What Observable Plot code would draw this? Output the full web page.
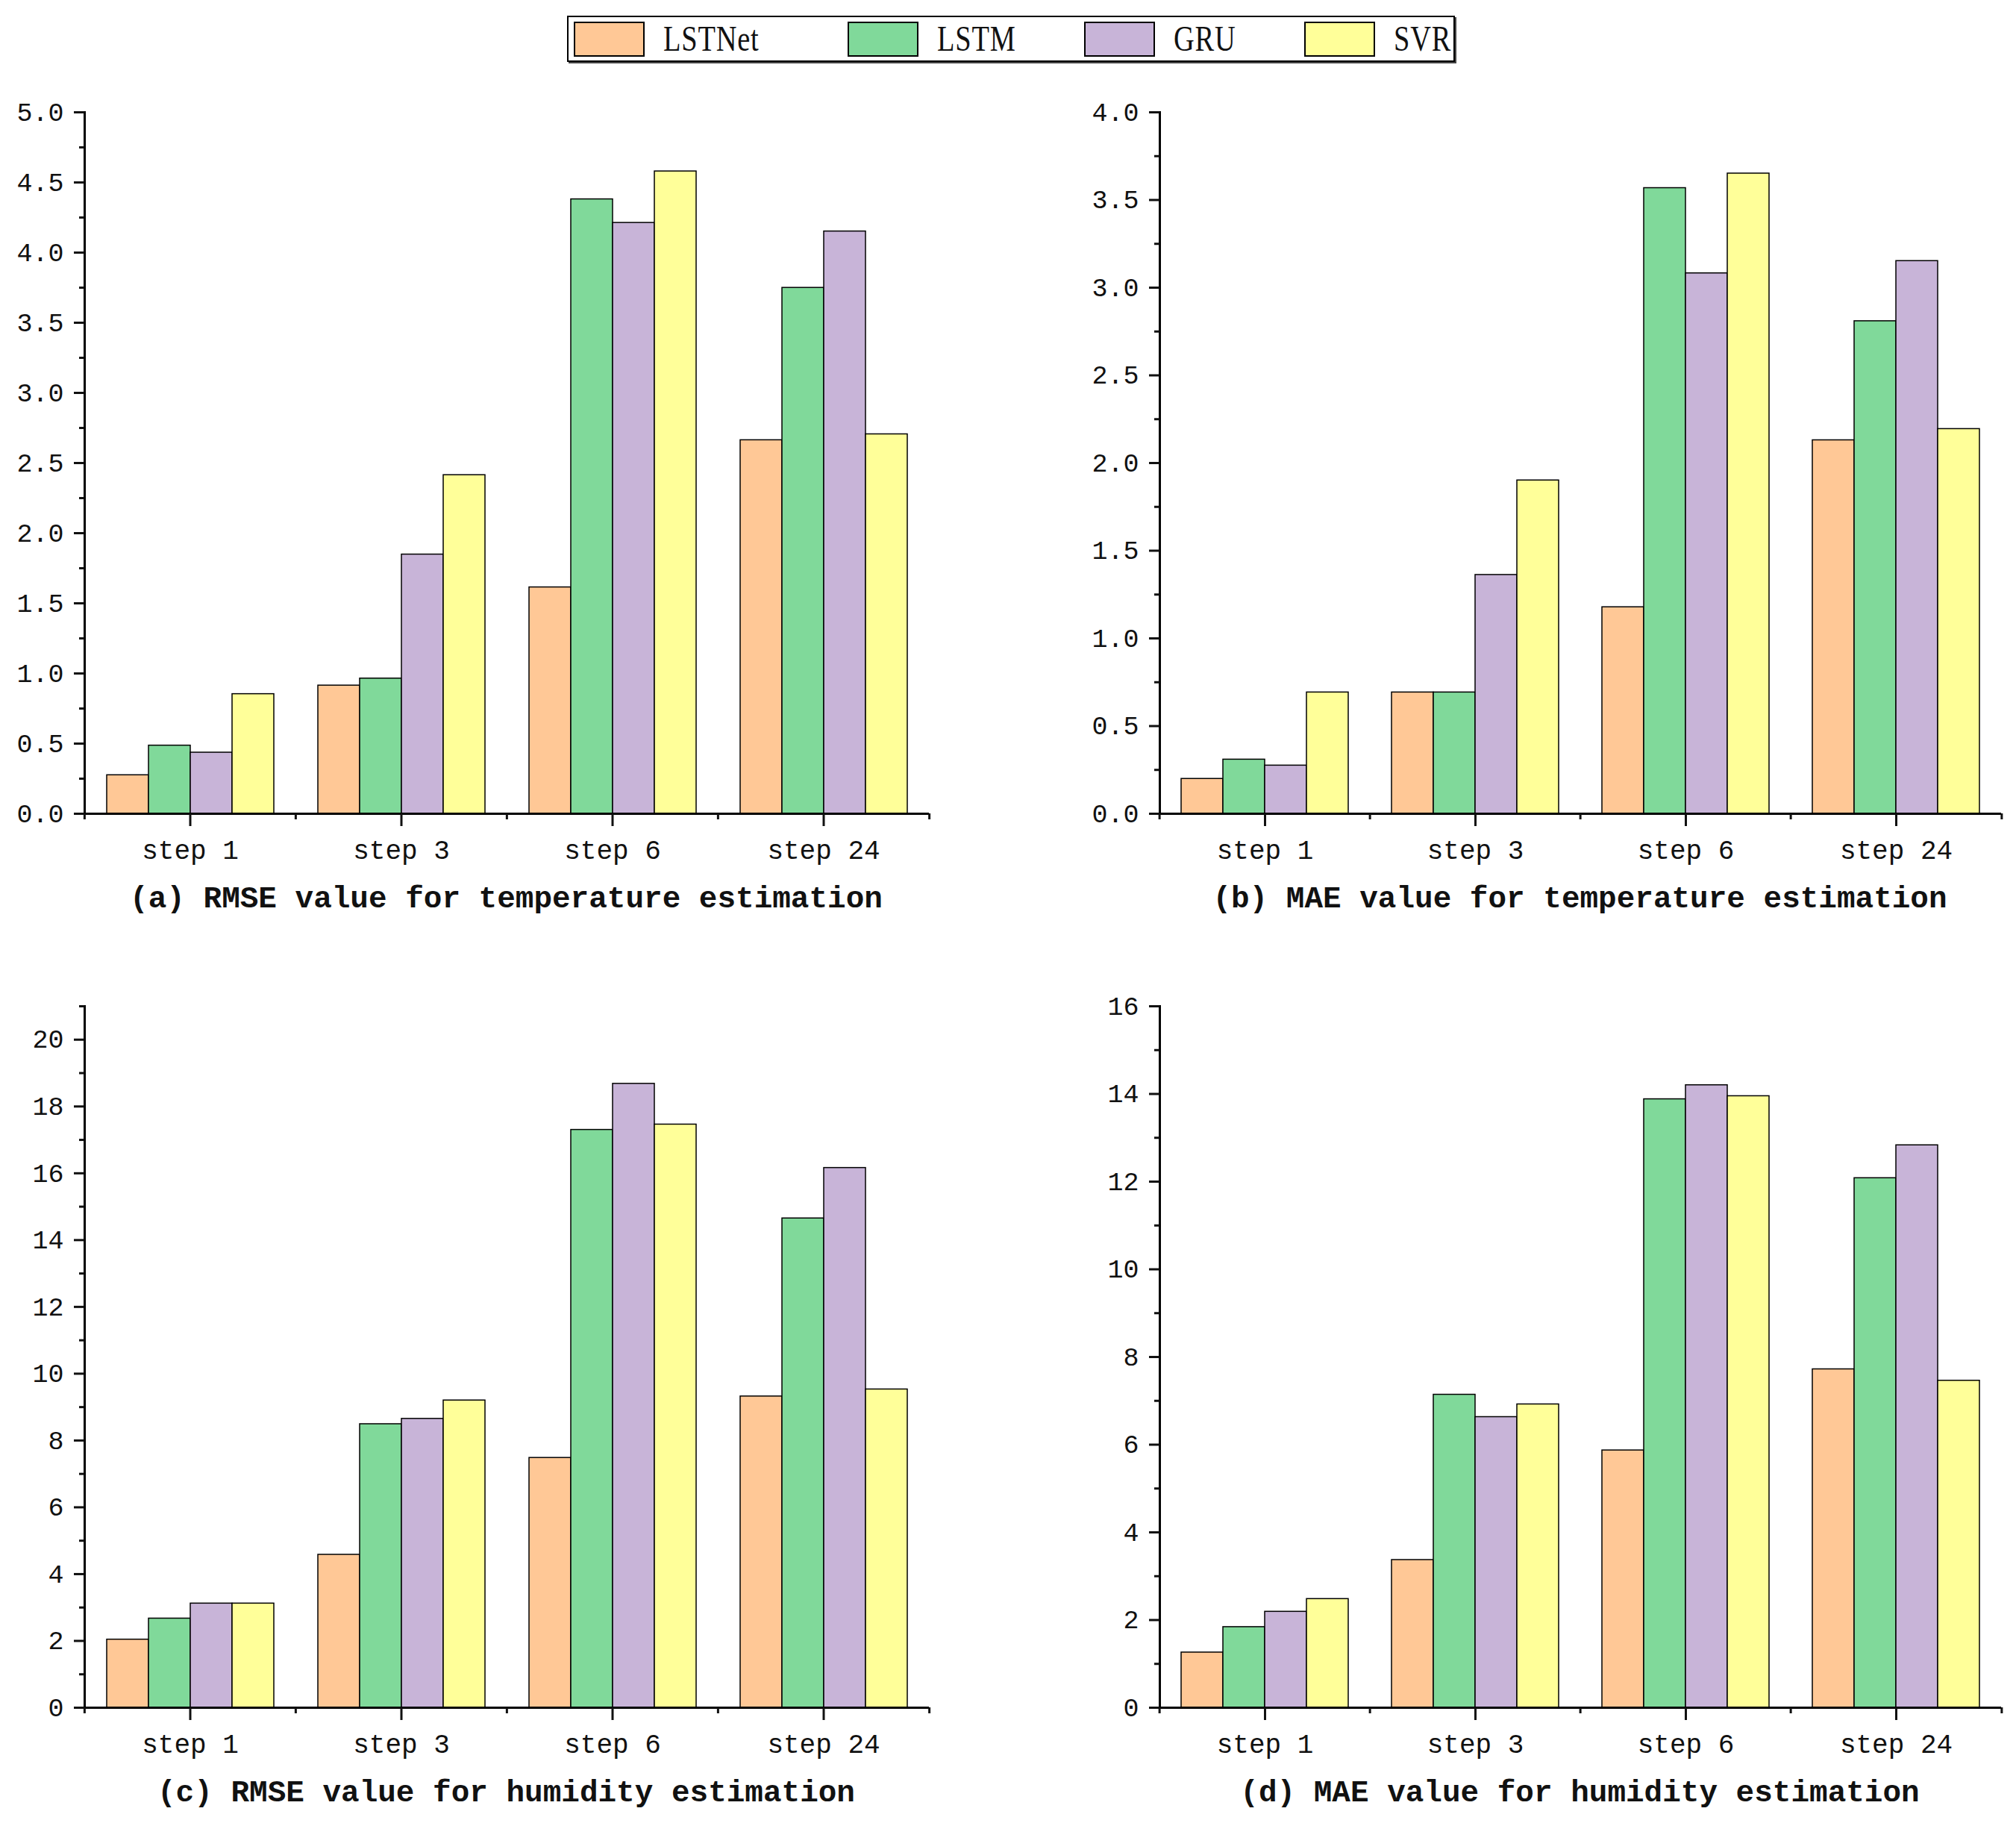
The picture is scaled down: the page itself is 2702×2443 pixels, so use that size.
<!DOCTYPE html>
<html>
<head>
<meta charset="utf-8">
<script src="https://cdn.jsdelivr.net/npm/d3@7"></script>
<script src="https://cdn.jsdelivr.net/npm/@observablehq/plot@0.6"></script>
<style>
  body { margin: 0; background: #fff; width: 2702px; height: 2443px; position: relative; overflow: hidden; }
  .panel { position: absolute; }
  .title { position: absolute; text-align: center; font-family: "Liberation Mono", monospace; font-size: 41px; font-weight: bold; color: #111; white-space: nowrap; line-height: 70px; }
  #legend { position: absolute; left: 760px; top: 21px; width: 1190px; height: 62px; border: 2px solid #000; box-sizing: border-box; box-shadow: 2px 2px 0 #444; }
  .sw { position: absolute; top: 6px; width: 95px; height: 47px; border: 2px solid #000; box-sizing: border-box; }
  .lt { position: absolute; top: 0; height: 58px; line-height: 58px; font-family: "Liberation Serif", serif; font-size: 48px; color: #111; transform: scaleX(0.8); transform-origin: left center; white-space: nowrap; letter-spacing: 1px; }
</style>
</head>
<body>
<div id="legend"></div>
<script>
// ---------- data ----------
const steps  = ["step 1", "step 3", "step 6", "step 24"];
const models = ["LSTNet", "LSTM", "GRU", "SVR"];
const colors = ["#FFC896", "#80D99A", "#C8B4D8", "#FFFF99"];

// rows: LSTNet, LSTM, GRU, SVR ; columns: step 1, step 3, step 6, step 24
const rmseTemp = [
  [0.275, 0.914, 1.614, 2.663],
  [0.486, 0.964, 4.380, 3.749],
  [0.436, 1.848, 4.212, 4.151],
  [0.853, 2.414, 4.579, 2.705]
];
const maeTemp = [
  [0.199, 0.692, 1.178, 2.130],
  [0.309, 0.692, 3.568, 2.809],
  [0.275, 1.362, 3.082, 3.152],
  [0.692, 1.901, 3.651, 2.194]
];
const rmseHum = [
  [2.04, 4.58, 7.48, 9.32],
  [2.67, 8.49, 17.30, 14.65],
  [3.12, 8.65, 18.68, 16.16],
  [3.12, 9.20, 17.46, 9.53]
];
const maeHum = [
  [1.26, 3.37, 5.87, 7.72],
  [1.84, 7.14, 13.88, 12.08],
  [2.19, 6.63, 14.20, 12.83],
  [2.48, 6.92, 13.95, 7.46]
];

const rmseTempTicks = [0, 0.5, 1, 1.5, 2, 2.5, 3, 3.5, 4, 4.5, 5];
const rmseTempMinor = [0.25, 0.75, 1.25, 1.75, 2.25, 2.75, 3.25, 3.75, 4.25, 4.75];
const maeTempTicks  = [0, 0.5, 1, 1.5, 2, 2.5, 3, 3.5, 4];
const maeTempMinor  = [0.25, 0.75, 1.25, 1.75, 2.25, 2.75, 3.25, 3.75];
const rmseHumTicks  = [0, 2, 4, 6, 8, 10, 12, 14, 16, 18, 20];
const rmseHumMinor  = [1, 3, 5, 7, 9, 11, 13, 15, 17, 19, 21];
const maeHumTicks   = [0, 2, 4, 6, 8, 10, 12, 14, 16];
const maeHumMinor   = [1, 3, 5, 7, 9, 11, 13, 15];

const titles = [
  "(a) RMSE value for temperature estimation",
  "(b) MAE value for temperature estimation",
  "(c) RMSE value for humidity estimation",
  "(d) MAE value for humidity estimation"
];

// ---------- legend ----------
const legend = document.getElementById("legend");
const swLeft = [7, 374, 691, 986];
models.forEach((m, i) => {
  const s = document.createElement("div");
  s.className = "sw"; s.style.left = swLeft[i] + "px"; s.style.background = colors[i];
  legend.appendChild(s);
  const t = document.createElement("div");
  t.className = "lt"; t.style.left = (swLeft[i] + 120) + "px"; t.textContent = m;
  legend.appendChild(t);
});

// ---------- panels ----------
const W = 1351, H = 1060, MT = 40, MB = 80;
function panel({values, yMax, major, minor, fmt, left, top, ml, mr, title}) {
  const data = models.flatMap((m, j) => steps.map((s, i) => ({model: m, step: s, value: values[j][i]})));
  const fw = (W - ml - mr) / steps.length;
  const chart = Plot.plot({
    width: W, height: H,
    marginLeft: ml, marginRight: mr, marginTop: MT, marginBottom: MB,
    style: {fontFamily: '"Liberation Mono", monospace', fontSize: "35px", color: "#111", background: "transparent", overflow: "visible"},
    fx: {domain: steps, padding: 0, label: null},
    x: {domain: models, paddingInner: 0, paddingOuter: 0.5, axis: null},
    y: {domain: [0, yMax], label: null},
    color: {domain: models, range: colors},
    marks: [
      Plot.barY(data, {fx: "step", x: "model", y: "value", fill: "model", stroke: "#000", strokeWidth: 1.5}),
      Plot.ruleY([0], {stroke: "#000", strokeWidth: 3}),
      Plot.frame({anchor: "left", facetAnchor: "left", stroke: "#000", strokeWidth: 3}),
      Plot.axisY({ticks: major, tickFormat: fmt, tickSize: 14, tickPadding: 14, strokeWidth: 3, fontSize: 35, label: null}),
      Plot.axisY({ticks: minor, tickFormat: () => "", tickSize: 7, strokeWidth: 3, label: null}),
      Plot.axisFx({anchor: "bottom", tickSize: 17, tickPadding: 18, strokeWidth: 3, fontSize: 36, label: null}),
      Plot.axisFx({anchor: "bottom", tickSize: 8, tickFormat: () => "", dx: -fw / 2, strokeWidth: 3, label: null}),
      Plot.axisFx({anchor: "bottom", ticks: [steps[steps.length - 1]], tickSize: 8, tickFormat: () => "", dx: fw / 2, strokeWidth: 3, label: null})
    ]
  });
  chart.classList.add("panel");
  chart.style.left = left + "px";
  chart.style.top = top + "px";
  document.body.appendChild(chart);
  const t = document.createElement("div");
  t.className = "title";
  t.style.left = (left + ml) + "px";
  t.style.width = (W - ml - mr) + "px";
  t.style.top = (top + H) + "px";
  t.textContent = title;
  document.body.appendChild(t);
}

const f1 = d3.format(".1f"), f0 = d3.format("d");
panel({values: rmseTemp, yMax: 5,  major: rmseTempTicks, minor: rmseTempMinor, fmt: f1, left: 0,    top: 110,  ml: 112, mr: 106, title: titles[0]});
panel({values: maeTemp,  yMax: 4,  major: maeTempTicks,  minor: maeTempMinor,  fmt: f1, left: 1351, top: 110,  ml: 201, mr: 19,  title: titles[1]});
panel({values: rmseHum,  yMax: 21, major: rmseHumTicks,  minor: rmseHumMinor,  fmt: f0, left: 0,    top: 1308, ml: 112, mr: 106, title: titles[2]});
panel({values: maeHum,   yMax: 16, major: maeHumTicks,   minor: maeHumMinor,   fmt: f0, left: 1351, top: 1308, ml: 201, mr: 19,  title: titles[3]});
</script>
</body>
</html>
